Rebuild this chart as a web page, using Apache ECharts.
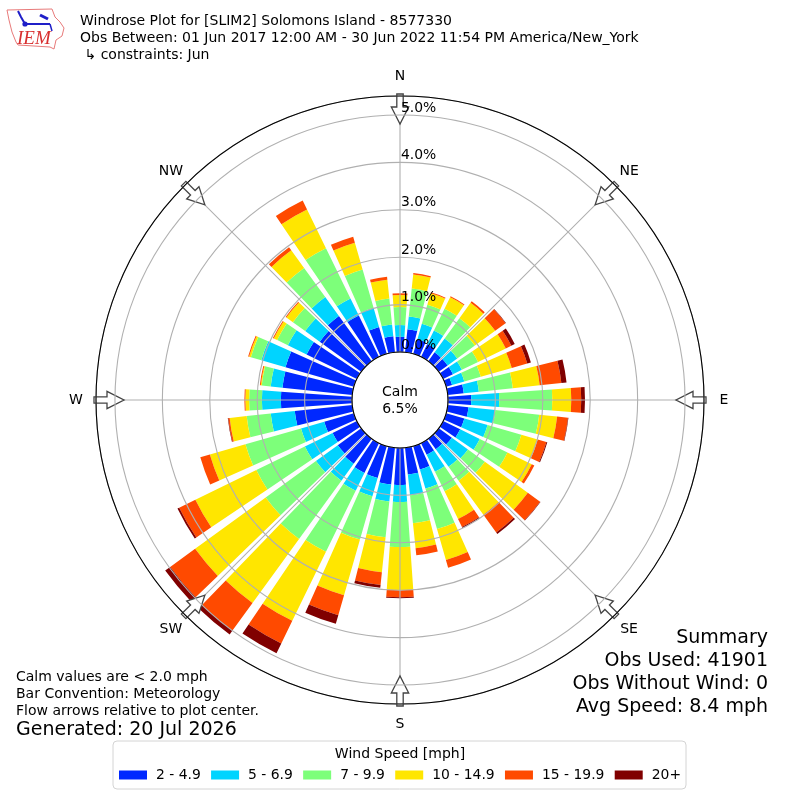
<!DOCTYPE html>
<html><head><meta charset="utf-8">
<script src="https://cdn.jsdelivr.net/npm/echarts@6/dist/echarts.min.js"></script>
<style>html,body{margin:0;padding:0;background:#fff}#c{width:800px;height:800px}</style>
</head><body><div id="c"></div>
<script>
const directions = [0,10,20,30,40,50,60,70,80,90,100,110,120,130,140,150,160,170,180,190,200,210,220,230,240,250,260,270,280,290,300,310,320,330,340,350];
const speed2to5 = [.32,.49,.32,.30,.23,.23,.23,.13,.34,.49,.44,.40,.40,.34,.27,.27,.51,.57,.78,.78,.70,.70,.65,.61,.57,.65,1.22,1.50,1.48,1.50,1.18,1.08,1.18,.97,.59,.34];
const speed5to7 = [.25,.27,.34,.32,.36,.25,.21,.27,.32,.59,.57,.51,.46,.42,.46,.40,.42,.44,.36,.36,.40,.42,.44,.57,.65,.51,.51,.40,.25,.53,.44,.38,.49,.40,.42,.25];
const speed7to10 = [.38,.59,.42,.51,.53,.46,.38,.36,.72,1.12,.93,.74,.65,.44,.36,.46,.89,.59,.95,.76,.95,1.43,1.52,1.31,1.14,1.22,.51,.27,.19,.23,.25,.32,.76,1.18,.84,.55];
const speed10to15 = [.25,.30,.25,.27,.40,.53,.65,.68,.57,.40,.38,.36,.57,1.12,.89,.65,.68,.53,.91,.74,1.22,1.62,1.67,1.84,1.43,.78,.36,.08,.02,.04,.08,.17,.46,.91,.59,.40];
const speed15to20 = [.04,.03,.02,.02,.04,.27,.13,.34,.46,.21,.23,.19,.06,.32,.46,.19,.17,.15,.15,.27,.44,.53,.72,.65,.38,.21,.03,.02,.02,.02,.02,.02,.08,.21,.13,.06];
const speed20up = [0,0,0,0,0,.01,.08,.08,.11,.08,.01,.02,0,.01,.04,.02,0,0,.02,.06,.19,.23,.10,.13,.04,0,.01,0,0,0,0,0,0,0,0,0];
const speedNames = ['2 - 4.9','5 - 6.9','7 - 9.9','10 - 14.9','15 - 19.9','20+'];
const speedColors = ['#0028ff','#00d4ff','#7dff7a','#ffe600','#ff4a00','#800000'];
const speedValues = [speed2to5,speed5to7,speed7to10,speed10to15,speed15to20,speed20up];
const compass = ['N','NE','E','SE','S','SW','W','NW'];
const radialMax = 5.4;
const titleLines = ['Windrose Plot for [SLIM2] Solomons Island - 8577330','Obs Between: 01 Jun 2017 12:00 AM - 30 Jun 2022 11:54 PM America/New_York',' \u21b3 constraints: Jun'];
const noteLines = ['Calm values are < 2.0 mph','Bar Convention: Meteorology','Flow arrows relative to plot center.'];
const generated = 'Generated: 20 Jul 2026';
const summaryLines = ['Summary','Obs Used: 41901','Obs Without Wind: 0','Avg Speed: 8.4 mph'];

const FF = '"DejaVu Sans"';
const CX = 400, CY = 400, R0 = 48, R1 = 304;
function txt(text,x,y,size,align,z){
  return {type:'text',z:z||20,style:{text:text,x:x,y:y,font:size+'px '+FF,fill:'#000',textAlign:align||'left',textVerticalAlign:'middle',align:align||'left',verticalAlign:'middle'}};
}
function arrow(deg){
  const a = deg*Math.PI/180, ux = Math.sin(a), uy = -Math.cos(a), px = -uy, py = ux;
  const P = (r,s)=>[CX+ux*r+px*s, CY+uy*r+py*s];
  return {type:'polygon',z:4,shape:{points:[P(306,-3.2),P(306,3.2),P(293,3.2),P(293,8.7),P(276,0),P(293,-8.7),P(293,-3.2)]},
    style:{fill:'#fff',stroke:'#444',lineWidth:1.3}};
}
const graphics = [];
[0,45,90,135,180,225,270,315].forEach(d=>graphics.push(arrow(d)));
compass.forEach((t,i)=>{
  const a = i*45*Math.PI/180;
  graphics.push(txt(t,CX+324*Math.sin(a),CY+0.5-324*Math.cos(a),14,'center'));
});
titleLines.forEach((t,i)=>graphics.push(txt(t,80,21+i*17,14)));
noteLines.forEach((t,i)=>graphics.push(txt(t,16,677+i*17,14)));
graphics.push(txt(generated,16,730.5,19));
summaryLines.forEach((t,i)=>graphics.push(txt(t,768,638+i*23,19,'right')));
graphics.push(txt('Calm',400,392,14,'center'));
graphics.push(txt('6.5%',400,409,14,'center'));
graphics.push(txt('Wind Speed [mph]',400,754,14,'center'));
// logo
graphics.push({type:'polygon',z:20,shape:{points:[[7,10],[52,9],[55,17],[60,22],[64,28],[62,36],[56,40],[54,49],[50,47],[18,45],[16,42],[12,32],[9,20]]},style:{fill:'#fff',stroke:'#e87a7a',lineWidth:1}});
graphics.push({type:'polyline',z:21,shape:{points:[[18,11],[21,17],[25,24],[50,24]]},style:{fill:'none',stroke:'#1f1fc8',lineWidth:2}});
graphics.push({type:'polyline',z:21,shape:{points:[[40,15],[48,19]]},style:{fill:'none',stroke:'#1f1fc8',lineWidth:3}});
graphics.push({type:'polyline',z:21,shape:{points:[[50,24],[52,31]]},style:{fill:'none',stroke:'#1f1fc8',lineWidth:1.5}});
graphics.push({type:'circle',z:21,shape:{cx:25,cy:24,r:2.6},style:{fill:'#1f1fc8'}});
graphics.push({type:'text',z:21,style:{text:'IEM',x:17,y:39,font:'italic 19px "Liberation Serif"',fill:'#d83030',align:'left',verticalAlign:'middle',textAlign:'left',textVerticalAlign:'middle'}});

const chart = echarts.init(document.getElementById('c'),null,{renderer:'canvas'});
const polarBox = {center:[CX,CY],radius:[R0,R1]};
chart.setOption({
  animation:false,
  backgroundColor:'#fff',
  textStyle:{fontFamily:FF},
  polar:[polarBox,polarBox,polarBox],
  angleAxis:[
    {polarIndex:0,type:'category',data:directions,startAngle:95,show:false,boundaryGap:true},
    {polarIndex:1,type:'value',min:0,max:360,interval:45,startAngle:90,z:3,
      axisLine:{show:false},axisTick:{show:false},axisLabel:{show:false},
      splitLine:{show:true,lineStyle:{color:'#b0b0b0',width:1.1}}},
    {polarIndex:2,type:'value',min:0,max:360,interval:45,startAngle:90,z:7,
      axisLine:{show:true,lineStyle:{color:'#000',width:1.1}},axisTick:{show:false},axisLabel:{show:false},splitLine:{show:false}}
  ],
  radiusAxis:[
    {polarIndex:0,type:'value',min:0,max:radialMax,show:false},
    {polarIndex:1,type:'value',min:0,max:radialMax,interval:1,z:5,
      axisLine:{show:false},axisTick:{show:false},axisLabel:{show:false},
      splitLine:{show:true,lineStyle:{color:'#b0b0b0',width:1.1}}},
    {polarIndex:2,type:'value',min:0,max:radialMax,interval:1,z:6,
      axisLine:{show:false},axisTick:{show:false},splitLine:{show:false},
      axisLabel:{show:true,margin:-1,align:'left',verticalAlign:'bottom',color:'#000',fontSize:13.9,fontFamily:FF,
        showMaxLabel:false,formatter:v=>v<=5?v.toFixed(1)+'%':''}}
  ],
  legend:{left:113,top:741,orient:'horizontal',padding:[27,5,7,6],itemWidth:28,itemHeight:9,itemGap:10.3,icon:'rect',
    backgroundColor:'#fff',borderColor:'#d4d4d4',borderWidth:1,borderRadius:4,selectedMode:false,
    textStyle:{fontSize:13.9,fontFamily:FF,color:'#000',padding:[0,0,0,4]},data:speedNames},
  series:speedNames.map((n,i)=>({
    name:n,type:'bar',coordinateSystem:'polar',polarIndex:0,stack:'wind',barCategoryGap:'20%',
    data:speedValues[i],itemStyle:{color:speedColors[i]},silent:true
  })),
  graphic:{elements:graphics}
});
</script></body></html>
